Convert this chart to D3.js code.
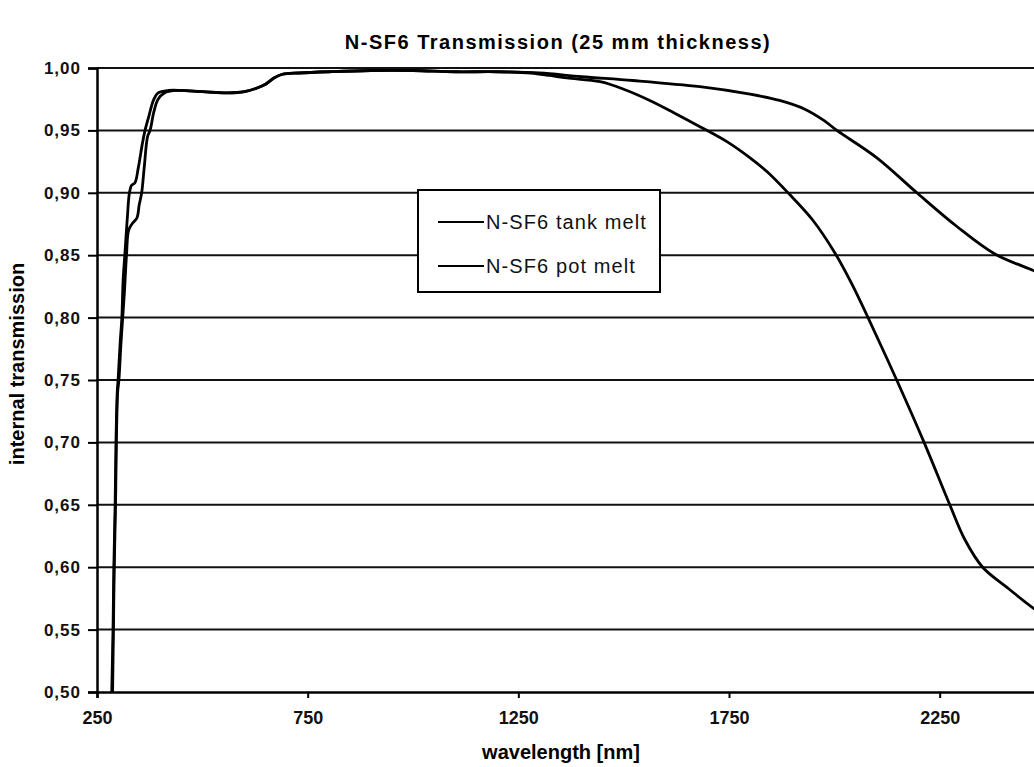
<!DOCTYPE html>
<html>
<head>
<meta charset="utf-8">
<script src="https://cdnjs.cloudflare.com/ajax/libs/d3/7.8.5/d3.min.js"></script>
<style>
  body { margin: 0; background: #fff; }
  svg { display: block; font-family: "Liberation Sans", Arial, sans-serif; }
</style>
</head>
<body>
<svg class="chart_svg" width="1034" height="767"></svg>
<script>
// wavelength [nm] / internal transmission
const tankWl = [285, 288, 290, 293, 295, 298, 300, 305, 309, 312, 316, 322, 327, 332, 340, 348, 358, 364, 372, 385, 395, 420, 450, 500, 560, 600, 630, 650, 670, 690, 730, 800, 900, 1000, 1100, 1200, 1300, 1400, 1522, 1681, 1800, 1870, 1930, 1975, 2006, 2101, 2196, 2291, 2381, 2471, 2500]
const tankT = [0.50, 0.55, 0.60, 0.65, 0.70, 0.74, 0.75, 0.78, 0.80, 0.83, 0.85, 0.88, 0.90, 0.906, 0.908, 0.92, 0.94, 0.95, 0.96, 0.975, 0.980, 0.982, 0.982, 0.981, 0.980, 0.981, 0.984, 0.987, 0.992, 0.995, 0.996, 0.997, 0.998, 0.998, 0.997, 0.997, 0.996, 0.993, 0.990, 0.985, 0.979, 0.974, 0.967, 0.958, 0.950, 0.928, 0.900, 0.873, 0.851, 0.838, 0.834]

const potWl = [287, 289, 291, 294, 296, 299, 302, 307, 311, 315, 320, 325, 333, 345, 350, 356, 362, 370, 376, 385, 395, 410, 435, 500, 560, 600, 630, 650, 670, 690, 730, 800, 900, 1000, 1100, 1200, 1280, 1325, 1365, 1444, 1500, 1562, 1620, 1681, 1745, 1800, 1840, 1890, 1949, 2001, 2040, 2080, 2148, 2213, 2274, 2310, 2352, 2409, 2473, 2500]
const potT = [0.50, 0.55, 0.60, 0.65, 0.70, 0.74, 0.75, 0.78, 0.80, 0.82, 0.85, 0.87, 0.875, 0.88, 0.89, 0.90, 0.92, 0.945, 0.95, 0.965, 0.975, 0.980, 0.982, 0.981, 0.980, 0.981, 0.984, 0.987, 0.992, 0.995, 0.996, 0.997, 0.998, 0.998, 0.997, 0.997, 0.996, 0.994, 0.992, 0.989, 0.983, 0.974, 0.964, 0.953, 0.941, 0.928, 0.917, 0.900, 0.878, 0.852, 0.828, 0.800, 0.750, 0.700, 0.650, 0.622, 0.600, 0.584, 0.567, 0.561]

const seriesNames = ["N-SF6 tank melt", "N-SF6 pot melt"]
const xTicks = [250, 750, 1250, 1750, 2250]
const yTicks = [0.50, 0.55, 0.60, 0.65, 0.70, 0.75, 0.80, 0.85, 0.90, 0.95, 1.00]

const svg = d3.select("svg.chart_svg")
const margin = { top: 68, left: 97, bottom: 75 }
const plotRight = 1045   // the scan cuts the plot off at the right edge
const height = 767

const x = d3.scaleLinear().domain([250, 2500]).range([margin.left, plotRight])
const y = d3.scaleLinear().domain([0.5, 1.0]).range([height - margin.bottom, margin.top])

const fmt = v => d3.format(".2f")(v).replace(".", ",")

// horizontal gridlines
svg.append("g")
    .selectAll("line")
    .data(yTicks.slice(1))
    .join("line")
    .attr("x1", margin.left).attr("x2", plotRight)
    .attr("y1", d => y(d)).attr("y2", d => y(d))
    .attr("stroke", "#111")
    .attr("stroke-width", 2)

const yAxis = svg.append("g")
    .attr("transform", `translate(${margin.left},0)`)
    .call(d3.axisLeft(y).tickValues(yTicks).tickFormat(fmt).tickSize(9).tickPadding(7))
yAxis.select(".domain").attr("stroke", "#000").attr("stroke-width", 2.5)
yAxis.selectAll(".tick line").attr("stroke", "#000").attr("stroke-width", 2)
yAxis.selectAll("text")
    .attr("font-size", 17).attr("font-weight", "bold").attr("fill", "#111")
    .attr("letter-spacing", 1)

const xAxis = svg.append("g")
    .attr("transform", `translate(0,${y(0.5)})`)
    .call(d3.axisBottom(x).tickValues(xTicks).tickFormat(d3.format("d")).tickSize(6).tickPadding(13))
xAxis.select(".domain").attr("stroke", "#000").attr("stroke-width", 2.5)
xAxis.selectAll(".tick line").attr("stroke", "#000").attr("stroke-width", 2)
xAxis.selectAll("text")
    .attr("font-size", 18).attr("font-weight", "bold").attr("fill", "#111")

const line = d3.line()
    .x(d => x(d[0]))
    .y(d => y(d[1]))
    .curve(d3.curveCatmullRom.alpha(0.5))

const series = [d3.zip(tankWl, tankT), d3.zip(potWl, potT)]

svg.append("g")
    .selectAll("path")
    .data(series)
    .join("path")
    .attr("d", line)
    .attr("fill", "none")
    .attr("stroke", "#000")
    .attr("stroke-width", 2.8)
    .attr("stroke-linejoin", "round")

// legend
const lg = svg.append("g").attr("transform", "translate(418,190)")
lg.append("rect")
    .attr("width", 242).attr("height", 102)
    .attr("fill", "#fff").attr("stroke", "#000").attr("stroke-width", 2)
lg.selectAll("g.item")
    .data(seriesNames)
    .join("g")
    .attr("class", "item")
    .attr("transform", (d, i) => `translate(0,${32 + i * 44})`)
    .each(function (d) {
        const g = d3.select(this)
        g.append("line").attr("x1", 20).attr("x2", 66).attr("stroke", "#000").attr("stroke-width", 2)
        g.append("text").attr("x", 68).attr("dy", "0.35em")
            .attr("font-size", 20).attr("letter-spacing", 1.1).attr("fill", "#111").text(d)
    })

// titles
svg.append("text")
    .attr("x", 558).attr("y", 49)
    .attr("text-anchor", "middle")
    .attr("font-size", 20).attr("font-weight", "bold").attr("letter-spacing", 1.5)
    .text("N-SF6 Transmission (25 mm thickness)")

svg.append("text")
    .attr("x", 561).attr("y", 759)
    .attr("text-anchor", "middle")
    .attr("font-size", 20).attr("font-weight", "bold")
    .text("wavelength [nm]")

svg.append("text")
    .attr("transform", "translate(24,364) rotate(-90)")
    .attr("text-anchor", "middle")
    .attr("font-size", 20).attr("font-weight", "bold")
    .text("internal transmission")
</script>
</body>
</html>
